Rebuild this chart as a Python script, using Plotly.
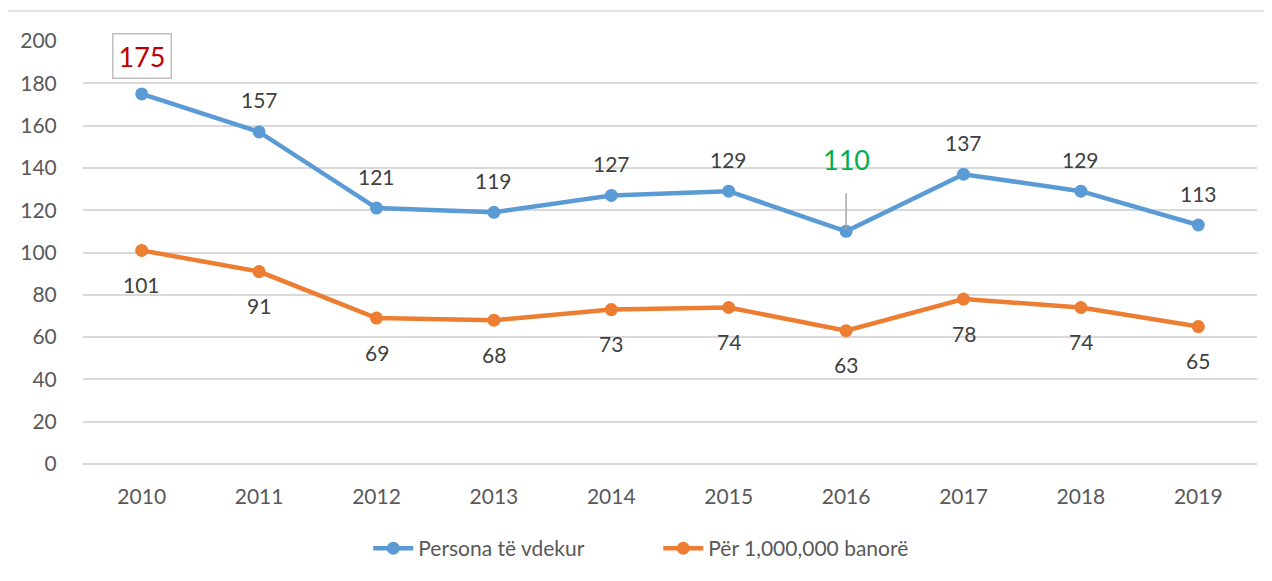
import plotly.graph_objects as go

years = ["2010", "2011", "2012", "2013", "2014", "2015", "2016", "2017", "2018", "2019"]
deaths = [175, 157, 121, 119, 127, 129, 110, 137, 129, 113]
per_million = [101, 91, 69, 68, 73, 74, 63, 78, 74, 65]
y_ticks = [0, 20, 40, 60, 80, 100, 120, 140, 160, 180, 200]

BLUE = "#5B9BD5"
ORANGE = "#ED7D31"
FONT = "Lato, Liberation Sans, sans-serif"

fig = go.Figure()
fig.add_trace(go.Scatter(x=years, y=deaths, mode="lines+markers", name="Persona të vdekur",
                         line=dict(color=BLUE, width=4.5), marker=dict(size=13, color=BLUE)))
fig.add_trace(go.Scatter(x=years, y=per_million, mode="lines+markers", name="Për 1,000,000 banorë",
                         line=dict(color=ORANGE, width=4.5), marker=dict(size=13, color=ORANGE)))

anns = []
for i, (yr, v) in enumerate(zip(years, deaths)):
    if i == 0:
        anns.append(dict(x=i, y=v, text=str(v), showarrow=False, yshift=38,
                         font=dict(size=27, color="#C00000", family=FONT),
                         bordercolor="#BFBFBF", borderwidth=1.5, borderpad=5, bgcolor="white"))
    elif yr == "2016":
        anns.append(dict(x=i, y=v, text=str(v), showarrow=True, ax=0, ay=-72,
                         arrowhead=0, arrowwidth=1.5, arrowcolor="#A6A6A6",
                         startstandoff=16, standoff=2,
                         font=dict(size=27, color="#00B050", family=FONT)))
    else:
        anns.append(dict(x=i, y=v, text=str(v), showarrow=False, yshift=32,
                         font=dict(size=21, color="#404040", family=FONT)))
for i, v in enumerate(per_million):
    anns.append(dict(x=i, y=v, text=str(v), showarrow=False, yshift=-34,
                     font=dict(size=21, color="#404040", family=FONT)))

fig.update_layout(
    width=1264, height=573,
    margin=dict(l=75, r=15, t=33, b=117),
    paper_bgcolor="white", plot_bgcolor="white",
    font=dict(family=FONT, size=21, color="#595959"),
    showlegend=True,
    legend=dict(orientation="h", x=0.49, xanchor="center", y=-0.2, yanchor="middle",
                font=dict(size=21, color="#595959"), itemwidth=40, tracegroupgap=0,
                entrywidth=235, entrywidthmode="pixels"),
    annotations=anns,
    xaxis=dict(type="category", range=[-0.5, 9.5], showgrid=False, zeroline=False,
               showline=False, ticks="outside", ticklen=14, tickcolor="rgba(0,0,0,0)",
               tickfont=dict(size=21, color="#595959")),
    yaxis=dict(range=[0, 200], tickvals=y_ticks, showgrid=True, gridcolor="#D9D9D9",
               gridwidth=1.5, zeroline=True, zerolinecolor="#D9D9D9", zerolinewidth=1.5,
               showline=False, ticks="outside", ticklen=21, tickcolor="rgba(0,0,0,0)",
               tickfont=dict(size=21, color="#595959")),
    shapes=[dict(type="rect", xref="paper", yref="paper", x0=-0.0647, x1=1.05, y0=-0.5, y1=1.071,
                 line=dict(color="#D9D9D9", width=1.5), layer="below")],
)

fig.write_html("out.html")
